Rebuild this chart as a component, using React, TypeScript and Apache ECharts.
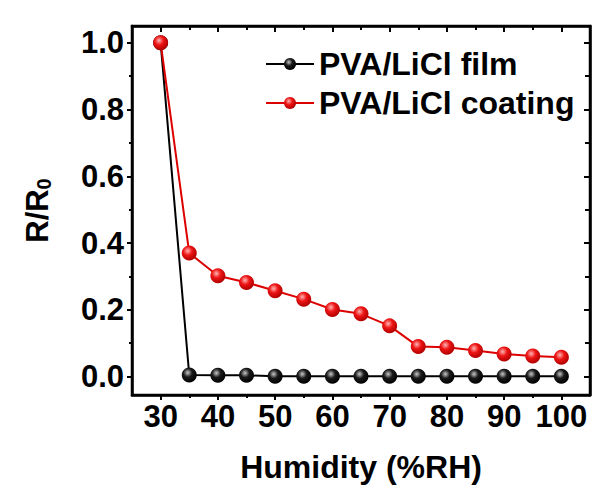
import React, { useEffect, useRef } from "react";
import * as echarts from "echarts";

const humidity = [30, 35, 40, 45, 50, 55, 60, 65, 70, 75, 80, 85, 90, 95, 100];
const filmValues = [1.0, 0.005, 0.004, 0.004, 0.001, 0.001, 0.001, 0.001, 0.001, 0.001, 0.001, 0.001, 0.001, 0.001, 0.001];
const coatingValues = [1.0, 0.37, 0.302, 0.282, 0.257, 0.232, 0.201, 0.188, 0.152, 0.09, 0.088, 0.078, 0.068, 0.062, 0.058];
const xMajor = [30, 40, 50, 60, 70, 80, 90, 100];
const xMinor = [35, 45, 55, 65, 75, 85, 95];
const yMajor = [0, 0.2, 0.4, 0.6, 0.8, 1.0];
const yMinor = [0.1, 0.3, 0.5, 0.7, 0.9];
const xRange = [25, 105];
const yRange = [-0.055, 1.05];
const seriesNames = ["PVA/LiCl film", "PVA/LiCl coating"];

const FONT = "'Liberation Sans', Arial, sans-serif";

function sphere(light: string, mid: string, dark: string) {
  return {
    type: "radial",
    x: 0.4,
    y: 0.35,
    r: 0.65,
    colorStops: [
      { offset: 0, color: light },
      { offset: 0.45, color: mid },
      { offset: 1, color: dark },
    ],
  };
}

export default function App() {
  const ref = useRef<HTMLDivElement>(null);
  useEffect(() => {
    if (!ref.current) return;
    const chart = echarts.init(ref.current, null, { renderer: "svg" });
    const line = () => ({ show: true, onZero: false, lineStyle: { color: "#000", width: 2.5 } });
    const noLine = () => ({ show: false, onZero: false });
    const xBase = () => ({ type: "value", min: xRange[0], max: xRange[1], splitLine: { show: false } });
    const yBase = () => ({ type: "value", min: yRange[0], max: yRange[1], splitLine: { show: false } });
    const tick = (vals: number[], len: number, inside: boolean) => ({
      show: true,
      customValues: vals,
      length: len,
      inside,
      lineStyle: { color: "#000", width: 2 },
    });
    const noLabel = () => ({ show: false });
    const frame = [
      [xRange[0], yRange[0]],
      [xRange[0], yRange[1]],
      [xRange[1], yRange[1]],
      [xRange[1], yRange[0]],
      [xRange[0], yRange[0]],
    ];
    chart.setOption({
      animation: false,
      backgroundColor: "#fff",
      grid: { left: 132, right: 24, top: 26, bottom: 106 },
      legend: {
        left: 260,
        top: 43,
        orient: "vertical",
        itemWidth: 48,
        itemHeight: 15,
        itemGap: 7,
        data: seriesNames,
        textStyle: { fontSize: 32, fontWeight: "bold", color: "#000", fontFamily: FONT },
      },
      xAxis: [
        {
          ...xBase(),
          position: "bottom",
          axisLine: line(),
          axisTick: tick(xMajor, 5, false),
          axisLabel: {
            customValues: xMajor,
            fontSize: 31,
            fontWeight: "bold",
            color: "#000",
            fontFamily: FONT,
            margin: 6,
          },
          name: "Humidity (%RH)",
          nameLocation: "middle",
          nameGap: 56,
          nameTextStyle: { fontSize: 32, fontWeight: "bold", color: "#000", fontFamily: FONT },
        },
        { ...xBase(), position: "bottom", axisLine: noLine(), axisTick: tick(xMinor, 3, false), axisLabel: noLabel() },
        { ...xBase(), position: "top", axisLine: line(), axisTick: tick(xMajor, 6, true), axisLabel: noLabel() },
        { ...xBase(), position: "top", axisLine: noLine(), axisTick: tick(xMinor, 4, true), axisLabel: noLabel() },
      ],
      yAxis: [
        {
          ...yBase(),
          position: "left",
          axisLine: line(),
          axisTick: tick(yMajor, 5, false),
          axisLabel: {
            customValues: yMajor,
            formatter: (v: number) => v.toFixed(1),
            fontSize: 31,
            fontWeight: "bold",
            color: "#000",
            fontFamily: FONT,
            margin: 8,
          },
          name: "{a|R/R}{b|0}",
          nameLocation: "middle",
          nameGap: 78,
          nameTextStyle: {
            rich: {
              a: { fontSize: 31, fontWeight: "bold", color: "#000", fontFamily: FONT, lineHeight: 34 },
              b: { fontSize: 20, fontWeight: "bold", color: "#000", fontFamily: FONT, lineHeight: 34, verticalAlign: "bottom", padding: [14, 0, 0, 0] },
            },
          },
        },
        { ...yBase(), position: "left", axisLine: noLine(), axisTick: tick(yMinor, 3, false), axisLabel: noLabel() },
        { ...yBase(), position: "right", axisLine: line(), axisTick: tick(yMajor, 6, true), axisLabel: noLabel() },
        { ...yBase(), position: "right", axisLine: noLine(), axisTick: tick(yMinor, 5, true), axisLabel: noLabel() },
      ],
      series: [
        {
          name: "frame",
          type: "line",
          xAxisIndex: 0,
          yAxisIndex: 0,
          data: frame,
          symbol: "none",
          clip: false,
          silent: true,
          lineStyle: { color: "#000", width: 2.5, cap: "square", join: "miter" },
          z: 1,
        },
        {
          name: seriesNames[0],
          type: "line",
          xAxisIndex: 0,
          yAxisIndex: 0,
          data: humidity.map((h, i) => [h, filmValues[i]]),
          symbol: "circle",
          symbolSize: 15,
          lineStyle: { color: "#000", width: 2 },
          itemStyle: { color: sphere("#c8c8c8", "#1a1a1a", "#000"), borderWidth: 0 },
          z: 2,
        },
        {
          name: seriesNames[1],
          type: "line",
          xAxisIndex: 0,
          yAxisIndex: 0,
          data: humidity.map((h, i) => [h, coatingValues[i]]),
          symbol: "circle",
          symbolSize: 15,
          lineStyle: { color: "#dd0000", width: 2 },
          itemStyle: { color: sphere("#ffb5b5", "#ee1515", "#b00000"), borderWidth: 0 },
          z: 3,
        },
      ],
    });
    return () => chart.dispose();
  }, []);
  return <div ref={ref} style={{ position: "absolute", left: 0, top: 0, width: 614, height: 501 }} />;
}
